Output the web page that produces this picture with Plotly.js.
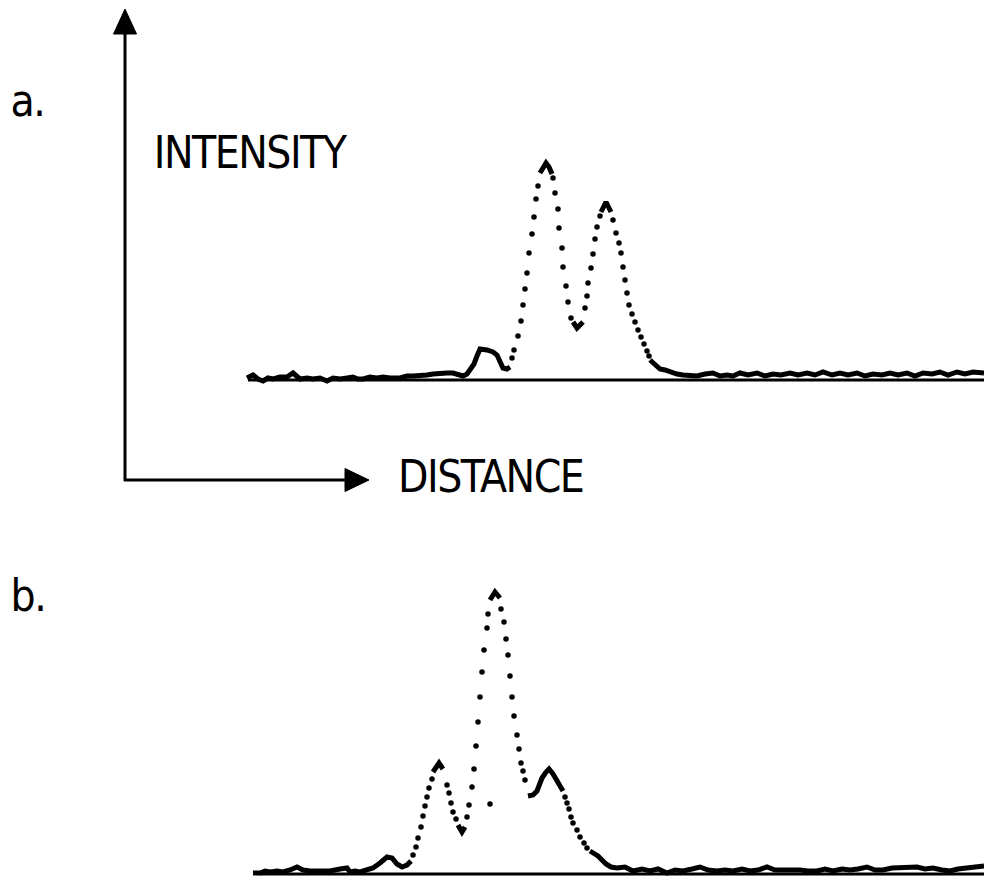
<!DOCTYPE html>
<html>
<head>
<meta charset="utf-8">
<script src="https://cdn.plot.ly/plotly-3.0.1.min.js"></script>
<style>
  html, body { margin: 0; padding: 0; background: #ffffff; }
  #chart { width: 984px; height: 882px; }
  #chart .annotation-text { letter-spacing: -1.5px; }
</style>
</head>
<body>
<div id="chart"></div>
<script>
// ---------------- DATA (distance, intensity above baseline) ----------------
// Panel a
const aBaseX = [248, 984];
const aBaseY = [0, 0];

// continuous (slow-changing) parts of the trace, null separates segments
const aSolidX = [247,253,258,263,268,273,280,287,293,297,300,307,313,320,327,333,340,347,353,358,363,370,377,383,390,400,407,413,420,427,433,440,447,453,458,463,467,470,474,477,480,487,493,497,500,503,507,510, null,
  540,543,546,549,552, null,
  573,577,583, null,
  601,606,611, null,
  650,655,660,665,670,677,683,690,697,705,713,720,727,733,740,748,757,765,773,781,790,798,807,815,823,832,840,848,857,865,873,882,890,898,907,915,923,932,940,948,957,965,973,984];
const aSolidY = [2,5,1,-1,2,1,3,3,7,4,1,2,1,2,-1,2,1,2,3,1,1,3,2,3,2,2,4,4,4,5,6,7,7,7,5,4,6,10,16,24,31,30,28,25,18,12,11,13, null,
  207,213,217,213,206, null,
  58,52,58, null,
  168,178,168, null,
  20,15,11,10,8,6,5,4,4,6,7,4,5,4,7,5,7,4,6,5,7,5,7,5,8,5,7,5,7,4,6,5,7,5,7,4,7,6,8,5,8,6,8,7];

// separated recorder dots on the steep flanks
const aDotX = [512,514,518,521,523,525,527,529,532,534,536,538,
  553,555,558,559,562,563,566,568,571,
  585,587,588,591,593,595,597,600,
  613,616,619,621,623,625,627,629,632,635,638,641,644,647,649];
const aDotY = [22,30,44,59,75,91,107,127,146,163,181,194,
  202,187,171,152,132,113,94,78,62,
  72,84,97,112,126,141,153,164,
  160,147,137,127,113,100,87,75,66,58,50,43,36,29,24];

// Panel b
const bBaseX = [260, 984];
const bBaseY = [0, 0];

const bSolidX = [253,260,265,270,277,283,290,297,303,310,320,330,340,347,350,355,360,367,373,380,387,392,397,402,407,411, null,
  433,436,439,443, null,
  458,462,465, null,
  490,495,500, null,
  528,533,537,542,546,549,553,557,561,563, null,
  590,594,598,602,606,611,617,625,633,642,650,658,667,675,683,692,700,708,717,725,733,742,750,758,767,775,783,792,800,808,817,825,833,842,850,858,867,875,883,892,900,908,917,925,933,942,950,958,967,975,984];
const bSolidY = [1,1,3,2,3,2,4,7,4,3,3,3,5,6,2,3,2,4,6,11,17,16,10,7,9,13, null,
  102,106,111,105, null,
  49,42,47, null,
  274,282,276, null,
  78,79,83,96,102,105,100,94,87,83, null,
  23,21,18,14,10,7,6,7,3,5,3,5,1,4,3,5,7,4,3,4,3,5,3,4,7,4,4,5,4,3,3,5,3,5,4,5,7,4,4,6,6,6,7,5,6,4,3,5,6,7,8];

const bDotX = [413,416,418,421,423,425,427,429,432,
  447,449,451,453,456,
  467,469,472,474,476,478,480,482,484,487,488,
  501,504,506,508,510,512,514,517,519,521,523,525,
  565,567,569,571,573,577,580,584,587,
  490];
const bDotY = [19,27,36,47,58,68,77,86,95,
  89,81,71,62,55,
  57,69,87,105,128,152,177,202,224,246,260,
  265,252,235,219,198,177,158,139,125,111,103,94,
  77,71,65,57,51,44,37,31,26,
  70];

// labels
const panelLabels = ["a.", "b."];
const yLabel = "INTENSITY";
const xLabel = "DISTANCE";

// ---------------- FIGURE ----------------
const W = 984, H = 882;
const px = v => v / W;
const py = v => 1 - v / H;
const ink = "#000000";

const solidLine = {color: ink, width: 5, shape: "linear"};
const dotMarker = {color: ink, size: 5.5};

const traces = [
  {x: aBaseX, y: aBaseY, xaxis: "x", yaxis: "y", mode: "lines", line: {color: ink, width: 3}, hoverinfo: "skip"},
  {x: aSolidX, y: aSolidY, xaxis: "x", yaxis: "y", mode: "lines", line: solidLine, connectgaps: false, hoverinfo: "skip"},
  {x: aDotX, y: aDotY, xaxis: "x", yaxis: "y", mode: "markers", marker: dotMarker, hoverinfo: "skip"},
  {x: bBaseX, y: bBaseY, xaxis: "x2", yaxis: "y2", mode: "lines", line: {color: ink, width: 3}, hoverinfo: "skip"},
  {x: bSolidX, y: bSolidY, xaxis: "x2", yaxis: "y2", mode: "lines", line: solidLine, connectgaps: false, hoverinfo: "skip"},
  {x: bDotX, y: bDotY, xaxis: "x2", yaxis: "y2", mode: "markers", marker: dotMarker, hoverinfo: "skip"}
];

const hidden = {visible: false, showgrid: false, zeroline: false, fixedrange: true};

const font = {family: "'DejaVu Sans Condensed', 'Liberation Sans Narrow', 'Arial Narrow', sans-serif", size: 44, color: ink};

function lineShape(x0, y0, x1, y1) {
  return {type: "line", xref: "paper", yref: "paper", x0: px(x0), y0: py(y0), x1: px(x1), y1: py(y1), line: {color: ink, width: 3}};
}
function triShape(pts) {
  const d = "M" + pts.map(p => px(p[0]) + "," + py(p[1])).join("L") + "Z";
  return {type: "path", xref: "paper", yref: "paper", path: d, fillcolor: ink, line: {color: ink, width: 1}};
}

const layout = {
  width: W, height: H,
  margin: {l: 0, r: 0, t: 0, b: 0, pad: 0},
  paper_bgcolor: "#ffffff", plot_bgcolor: "rgba(0,0,0,0)",
  showlegend: false,
  xaxis: Object.assign({}, hidden, {domain: [0, 1], range: [0, 984], anchor: "y"}),
  yaxis: Object.assign({}, hidden, {domain: [0.5, 1], range: [-61, 380], anchor: "x"}),
  xaxis2: Object.assign({}, hidden, {domain: [0, 1], range: [0, 984], anchor: "y2"}),
  yaxis2: Object.assign({}, hidden, {domain: [0, 0.5], range: [-8, 433], anchor: "x2"}),
  shapes: [
    lineShape(125, 481, 125, 30),
    triShape([[125, 9], [113.5, 34], [136.5, 34]]),
    lineShape(124, 480, 350, 480),
    triShape([[369, 480], [345, 468.5], [345, 491.5]])
  ],
  annotations: [
    {text: panelLabels[0], xref: "paper", yref: "paper", x: px(7), y: py(101), xanchor: "left", yanchor: "middle", showarrow: false, font: font},
    {text: panelLabels[1], xref: "paper", yref: "paper", x: px(7), y: py(595), xanchor: "left", yanchor: "middle", showarrow: false, font: font},
    {text: yLabel, xref: "paper", yref: "paper", x: px(145), y: py(153), xanchor: "left", yanchor: "middle", showarrow: false, font: font},
    {text: xLabel, xref: "paper", yref: "paper", x: px(390), y: py(476), xanchor: "left", yanchor: "middle", showarrow: false, font: font}
  ]
};

Plotly.newPlot("chart", traces, layout, {staticPlot: true, displayModeBar: false});
</script>
</body>
</html>
